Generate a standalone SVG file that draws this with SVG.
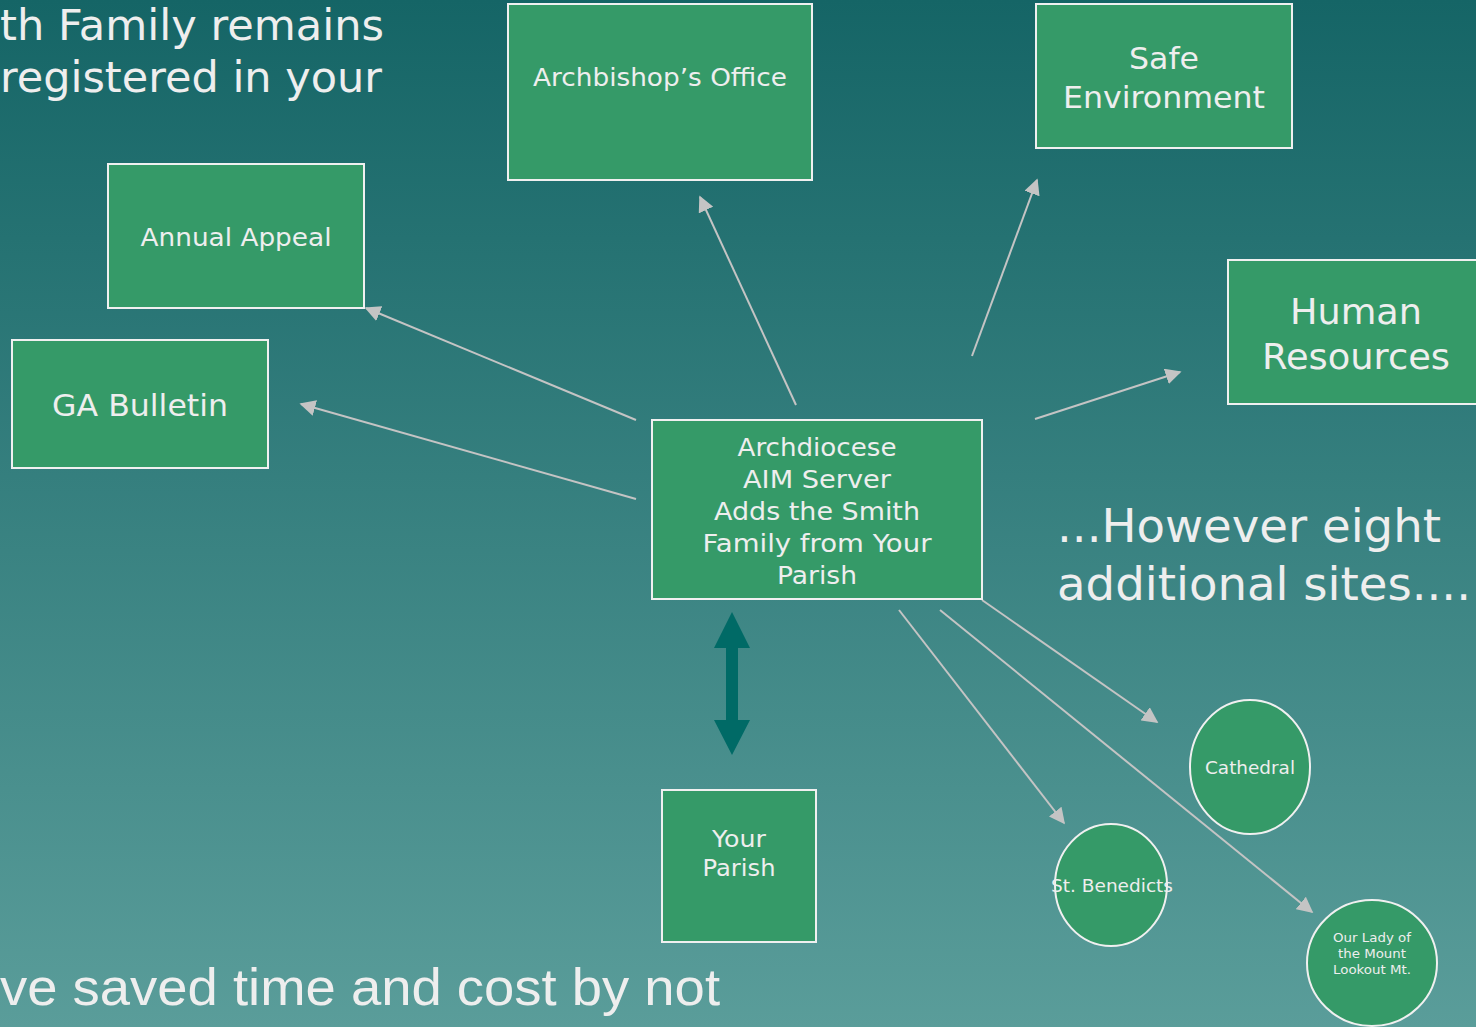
<svg xmlns="http://www.w3.org/2000/svg" width="1476" height="1027" viewBox="0 0 1476 1027">
<defs>
<linearGradient id="bg" x1="0" y1="0" x2="0" y2="1">
<stop offset="0" stop-color="#156566"/>
<stop offset="1" stop-color="#5a9d9a"/>
</linearGradient>
<marker id="ah2" viewBox="0 0 10 10" refX="9" refY="5" markerWidth="8" markerHeight="8" orient="auto">
<path d="M0,0 L10,5 L0,10 z" fill="#c4c4c4"/>
</marker>
</defs>
<style>
.box{fill:#359a68;stroke:#f0f0f0;stroke-width:2}
.t{fill:#eeeeee;font-family:"DejaVu Sans","Liberation Sans",sans-serif;text-anchor:middle}
.big{fill:#eeeeee;font-family:"DejaVu Sans","Liberation Sans",sans-serif}
.c{stroke:#c4c4c4;stroke-width:2;fill:none;marker-end:url(#ah2)}
</style>
<rect width="1476" height="1027" fill="url(#bg)"/>

<g id="caption-top">
<text class="big" x="0" y="40" font-size="42" textLength="384" lengthAdjust="spacingAndGlyphs">th Family remains</text>
<text class="big" x="0" y="92" font-size="42" textLength="382" lengthAdjust="spacingAndGlyphs">registered in your</text>
</g>
<g id="caption-right">
<text class="big" x="1057" y="542" font-size="46" textLength="384" lengthAdjust="spacingAndGlyphs">...However eight</text>
<text class="big" x="1057" y="600" font-size="46" textLength="414" lengthAdjust="spacingAndGlyphs">additional sites....</text>
</g>
<g id="caption-bottom">
<text class="big" x="0" y="1005" font-size="52" textLength="720" lengthAdjust="spacingAndGlyphs" style="font-family:'Liberation Sans',sans-serif">ve saved time and cost by not</text>
</g>

<g id="connectors">
<line class="c" x1="636" y1="420" x2="366" y2="308"/>
<line class="c" x1="636" y1="499" x2="301" y2="404"/>
<line class="c" x1="796" y1="405" x2="700" y2="197"/>
<line class="c" x1="972" y1="356" x2="1037" y2="180"/>
<line class="c" x1="1035" y1="419" x2="1180" y2="372"/>
<line class="c" x1="982" y1="600" x2="1157" y2="722"/>
<line class="c" x1="899" y1="610" x2="1064" y2="823"/>
<line class="c" x1="940" y1="610" x2="1312" y2="912"/>
<path d="M732,612 L750,648 L738,648 L738,720 L750,720 L732,755 L714,720 L726,720 L726,648 L714,648 Z" fill="#006a66"/>
</g>

<g id="archbishop">
<rect class="box" x="508" y="4" width="304" height="176"/>
<text class="t" x="660" y="86" font-size="24" textLength="254" lengthAdjust="spacingAndGlyphs">Archbishop’s Office</text>
</g>
<g id="safe-environment">
<rect class="box" x="1036" y="4" width="256" height="144"/>
<text class="t" x="1164" y="69" font-size="30" textLength="70" lengthAdjust="spacingAndGlyphs">Safe</text>
<text class="t" x="1164" y="108" font-size="30" textLength="202" lengthAdjust="spacingAndGlyphs">Environment</text>
</g>
<g id="annual-appeal">
<rect class="box" x="108" y="164" width="256" height="144"/>
<text class="t" x="236" y="246" font-size="24" textLength="191" lengthAdjust="spacingAndGlyphs">Annual Appeal</text>
</g>
<g id="ga-bulletin">
<rect class="box" x="12" y="340" width="256" height="128"/>
<text class="t" x="140" y="416" font-size="30" textLength="176" lengthAdjust="spacingAndGlyphs">GA Bulletin</text>
</g>
<g id="human-resources">
<rect class="box" x="1228" y="260" width="256" height="144"/>
<text class="t" x="1356" y="324" font-size="36" textLength="132" lengthAdjust="spacingAndGlyphs">Human</text>
<text class="t" x="1356" y="369" font-size="36" textLength="188" lengthAdjust="spacingAndGlyphs">Resources</text>
</g>
<g id="aim-server">
<rect class="box" x="652" y="420" width="330" height="179"/>
<text class="t" x="817" y="456" font-size="24" textLength="159" lengthAdjust="spacingAndGlyphs">Archdiocese</text>
<text class="t" x="817" y="488" font-size="24" textLength="148" lengthAdjust="spacingAndGlyphs">AIM Server</text>
<text class="t" x="817" y="520" font-size="24" textLength="206" lengthAdjust="spacingAndGlyphs">Adds the Smith</text>
<text class="t" x="817" y="552" font-size="24" textLength="229" lengthAdjust="spacingAndGlyphs">Family from Your</text>
<text class="t" x="817" y="584" font-size="24" textLength="80" lengthAdjust="spacingAndGlyphs">Parish</text>
</g>
<g id="your-parish">
<rect class="box" x="662" y="790" width="154" height="152"/>
<text class="t" x="739" y="847" font-size="23" textLength="54" lengthAdjust="spacingAndGlyphs">Your</text>
<text class="t" x="739" y="876" font-size="23" textLength="73" lengthAdjust="spacingAndGlyphs">Parish</text>
</g>
<g id="cathedral">
<ellipse class="box" cx="1250" cy="767" rx="60" ry="67"/>
<text class="t" x="1250" y="774" font-size="17" textLength="90" lengthAdjust="spacingAndGlyphs">Cathedral</text>
</g>
<g id="st-benedicts">
<ellipse class="box" cx="1111" cy="885" rx="56" ry="61"/>
<text class="t" x="1112" y="892" font-size="17" textLength="122" lengthAdjust="spacingAndGlyphs">St. Benedicts</text>
</g>
<g id="our-lady">
<ellipse class="box" cx="1372" cy="963" rx="65" ry="63"/>
<text class="t" x="1372" y="942" font-size="12.5" textLength="78" lengthAdjust="spacingAndGlyphs">Our Lady of</text>
<text class="t" x="1372" y="958" font-size="12.5" textLength="68" lengthAdjust="spacingAndGlyphs">the Mount</text>
<text class="t" x="1372" y="974" font-size="12.5" textLength="78" lengthAdjust="spacingAndGlyphs">Lookout Mt.</text>
</g>
</svg>
